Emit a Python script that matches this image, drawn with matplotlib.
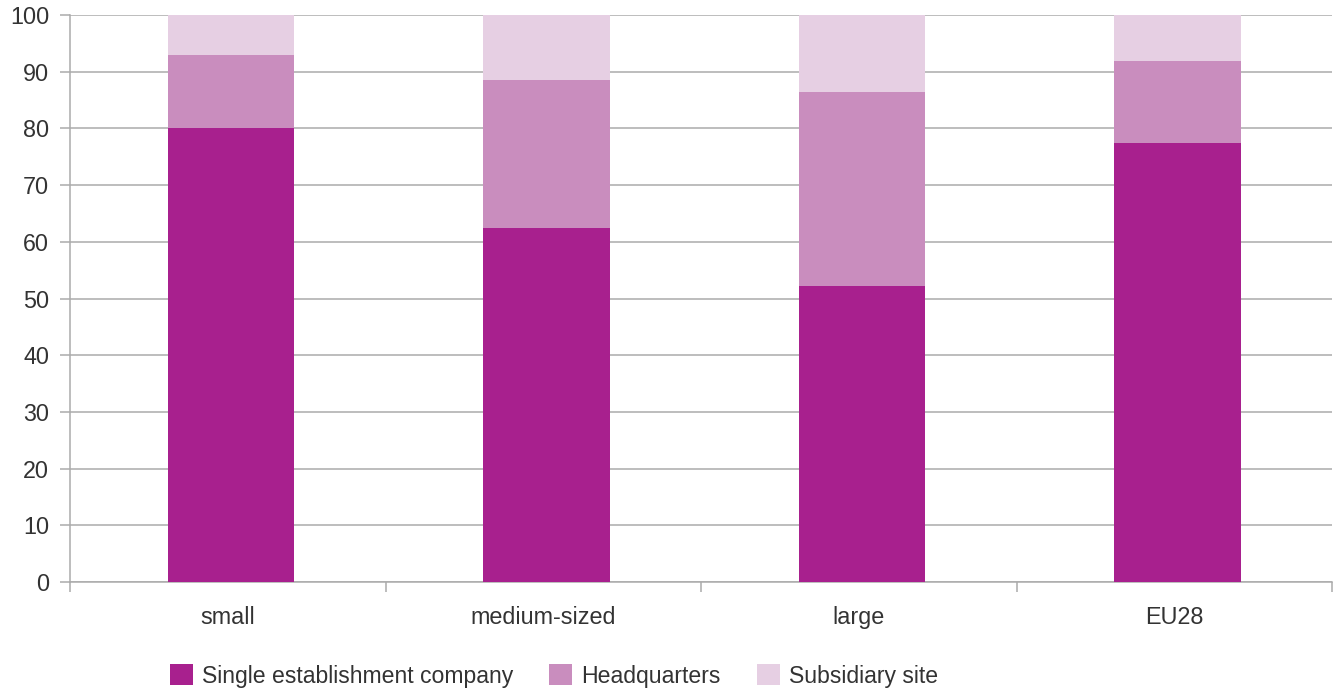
import matplotlib
matplotlib.use("Agg")
import matplotlib.pyplot as plt
from matplotlib.patches import Patch
import numpy as np

categories = ["small", "medium-sized", "large", "EU28"]
single = [80.1, 62.4, 52.2, 77.4]
headquarters = [12.8, 26.1, 34.2, 14.5]
subsidiary = [7.1, 11.5, 13.6, 8.1]
series_names = ["Single establishment company", "Headquarters", "Subsidiary site"]
colors = ["#A8208E", "#C98DBE", "#E6CFE3"]
yticks = [0, 10, 20, 30, 40, 50, 60, 70, 80, 90, 100]

plt.rcParams['font.family'] = ['Liberation Sans', 'DejaVu Sans']
text_color = "#333333"
grid_color = "#ABABAB"

fig = plt.figure(figsize=(13.35, 6.9), dpi=100)
ax = fig.add_axes([70/1335, 108/690, 1262/1335, 567/690])

x = np.arange(len(categories))
w = 0.4
bottoms = np.zeros(len(categories))
for vals, c, name in zip([single, headquarters, subsidiary], colors, series_names):
    ax.bar(x + 0.01, vals, width=w, bottom=bottoms, color=c, label=name, zorder=3, linewidth=0)
    bottoms += np.array(vals)

ax.set_xlim(-0.5, len(categories) - 0.5)
ax.set_ylim(0, 100)
ax.set_yticks(yticks)
ax.set_yticklabels([str(t) for t in yticks])
ax.yaxis.grid(True, color=grid_color, linewidth=1.1, zorder=0)
ax.set_axisbelow(True)

for s in ["top", "right"]:
    ax.spines[s].set_visible(False)
ax.spines["left"].set_color(grid_color)
ax.spines["bottom"].set_color(grid_color)
ax.spines["left"].set_linewidth(1.1)
ax.spines["bottom"].set_linewidth(1.1)

ax.tick_params(axis="y", length=7, color=grid_color, width=1.1, labelsize=16.8,
               labelcolor=text_color, pad=8)
ax.set_xticks(x)
ax.set_xticklabels(categories)
ax.tick_params(axis="x", which="major", length=0, labelsize=16.8, labelcolor=text_color, pad=17)
ax.set_xticks(np.arange(-0.5, len(categories)), minor=True)
ax.tick_params(axis="x", which="minor", length=7, color=grid_color, width=1.1)

handles = [Patch(facecolor=c, edgecolor="none") for c in colors]
fig.legend(handles, series_names, loc="center left", bbox_to_anchor=(170/1335, 1 - 676/690),
           ncol=3, frameon=False, fontsize=16.6, handlelength=1.0, handleheight=1.0,
           handletextpad=0.4, columnspacing=1.55, labelcolor=text_color, borderaxespad=0, borderpad=0)

fig.savefig("out.png", dpi=100)
